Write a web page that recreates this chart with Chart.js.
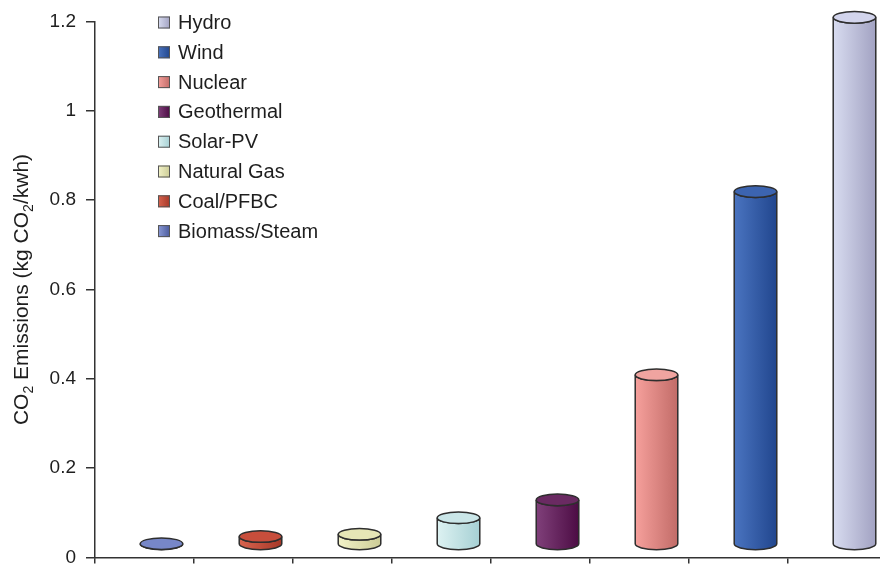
<!DOCTYPE html>
<html>
<head>
<meta charset="utf-8">
<script src="https://cdn.jsdelivr.net/npm/chart.js@4.4.0/dist/chart.umd.min.js"></script>
<style>
  html, body { margin: 0; padding: 0; background: #fff; overflow: hidden; }
  #wrap { position: relative; width: 892px; height: 579px; }
</style>
</head>
<body>
<div id="wrap"><canvas id="chart"></canvas></div>
<script>
// CO2 emissions per generation technology (kg CO2/kwh)
const categories = ['Biomass/Steam', 'Coal/PFBC', 'Natural Gas', 'Solar-PV', 'Geothermal', 'Nuclear', 'Wind', 'Hydro'];
const emissions = [0.002, 0.018, 0.023, 0.06, 0.1, 0.38, 0.79, 1.18];
const yTicks = [0, 0.2, 0.4, 0.6, 0.8, 1, 1.2];

// cylinder shading: left edge, right edge, cap
const lightColors = ['#8b9ad6', '#d8644f', '#f2f2c8', '#ddf2f2', '#80407a', '#f6a09c', '#4a74c0', '#d8dcf0'];
const darkColors = ['#4a5a9c', '#a63828', '#cccc96', '#a6d0d4', '#4c0c44', '#c26c68', '#21468e', '#a2a2c2'];
const capColors = ['#7787c8', '#c84e3c', '#e6e6b6', '#cae6e8', '#6a2a62', '#f0a4a0', '#3c64b0', '#d2d4ec'];

const FONT = '"Liberation Sans", Arial, Helvetica, sans-serif';
const EDGE = '#2e2e2e';
const DEPTH_X = 17;
const DEPTH_Y = -13;
const CAP_RY = 5.8;

function drawCylinder(ctx, cx, topY, baseY, rx, i) {
  const left = cx - rx;
  const right = cx + rx;
  const body = ctx.createLinearGradient(left, 0, right, 0);
  body.addColorStop(0, lightColors[i]);
  body.addColorStop(1, darkColors[i]);
  ctx.beginPath();
  ctx.moveTo(left, topY);
  ctx.lineTo(left, baseY);
  ctx.ellipse(cx, baseY, rx, CAP_RY, 0, Math.PI, 0, true);
  ctx.lineTo(right, topY);
  ctx.ellipse(cx, topY, rx, CAP_RY, 0, 0, Math.PI, false);
  ctx.closePath();
  ctx.fillStyle = body;
  ctx.fill();
  ctx.lineWidth = 1.5;
  ctx.strokeStyle = EDGE;
  ctx.stroke();

  ctx.beginPath();
  ctx.ellipse(cx, topY, rx, CAP_RY, 0, 0, Math.PI * 2);
  ctx.fillStyle = capColors[i];
  ctx.fill();
  ctx.stroke();
}

const cylinderPlugin = {
  id: 'cylinders',
  afterDatasetsDraw(chart) {
    const meta = chart.getDatasetMeta(0);
    const ctx = chart.ctx;
    ctx.save();
    meta.data.forEach((bar, i) => {
      const cx = bar.x + DEPTH_X;
      const topY = bar.y + DEPTH_Y;
      const baseY = bar.base + DEPTH_Y;
      drawCylinder(ctx, cx, topY, baseY, bar.width / 2, i);
    });
    ctx.restore();
  },
};

// legend sits inside the plot, listed from the tallest column down
const legendPlugin = {
  id: 'innerLegend',
  afterDraw(chart) {
    const ctx = chart.ctx;
    const x = 158;
    const size = 12;
    ctx.save();
    ctx.font = `20px ${FONT}`;
    ctx.textBaseline = 'middle';
    ctx.textAlign = 'left';
    for (let k = 0; k < categories.length; k++) {
      const i = categories.length - 1 - k;
      const cy = 22.5 + k * 29.8;
      const g = ctx.createLinearGradient(x, 0, x + size, 0);
      g.addColorStop(0, lightColors[i]);
      g.addColorStop(1, darkColors[i]);
      ctx.fillStyle = g;
      ctx.fillRect(x, cy - size / 2, size, size);
      ctx.lineWidth = 1;
      ctx.strokeStyle = '#555';
      ctx.strokeRect(x + 0.5, cy - size / 2 + 0.5, size - 1, size - 1);
      ctx.fillStyle = '#1e1e1e';
      ctx.fillText(categories[i], 178, cy + 1);
    }
    ctx.restore();
  },
};

// rotated value-axis title with subscript digits
const axisTitlePlugin = {
  id: 'axisTitle',
  afterDraw(chart) {
    const ctx = chart.ctx;
    const area = chart.chartArea;
    const parts = [['CO', false], ['2', true], [' Emissions (kg CO', false], ['2', true], ['/kwh)', false]];
    const mainFont = `21px ${FONT}`;
    const subFont = `14px ${FONT}`;
    ctx.save();
    let total = 0;
    parts.forEach(([t, sub]) => {
      ctx.font = sub ? subFont : mainFont;
      total += ctx.measureText(t).width;
    });
    ctx.translate(28, (area.top + area.bottom) / 2);
    ctx.rotate(-Math.PI / 2);
    ctx.fillStyle = '#1e1e1e';
    ctx.textBaseline = 'alphabetic';
    let pos = -total / 2;
    parts.forEach(([t, sub]) => {
      ctx.font = sub ? subFont : mainFont;
      ctx.fillText(t, pos, sub ? 5 : 0);
      pos += ctx.measureText(t).width;
    });
    ctx.restore();
  },
};

new Chart(document.getElementById('chart'), {
  type: 'bar',
  data: {
    labels: categories,
    datasets: [{
      data: emissions,
      backgroundColor: 'rgba(0,0,0,0)',
      borderWidth: 0,
      categoryPercentage: 1,
      barPercentage: 0.43,
    }],
  },
  options: {
    responsive: true,
    maintainAspectRatio: false,
    animation: false,
    layout: { padding: { top: 20, right: 5, bottom: 0, left: 0 } },
    plugins: {
      legend: { display: false },
      tooltip: { enabled: false },
    },
    scales: {
      x: {
        grid: { offset: true, drawOnChartArea: false, tickLength: 6, color: '#333', lineWidth: 1.5 },
        border: { color: '#333', width: 1.5 },
        ticks: { display: false },
      },
      y: {
        min: 0,
        max: 1.2,
        afterBuildTicks(scale) {
          scale.ticks = yTicks.map((v) => ({ value: v }));
        },
        afterFit(scale) {
          scale.width = 95;
        },
        grid: { drawOnChartArea: false, tickLength: 9, color: '#333', lineWidth: 1.5 },
        border: { color: '#333', width: 1.5 },
        ticks: {
          padding: 10,
          color: '#1e1e1e',
          font: { family: FONT, size: 19 },
          callback: (v) => String(+Number(v).toFixed(1)),
        },
      },
    },
  },
  plugins: [cylinderPlugin, legendPlugin, axisTitlePlugin],
});
</script>
</body>
</html>
